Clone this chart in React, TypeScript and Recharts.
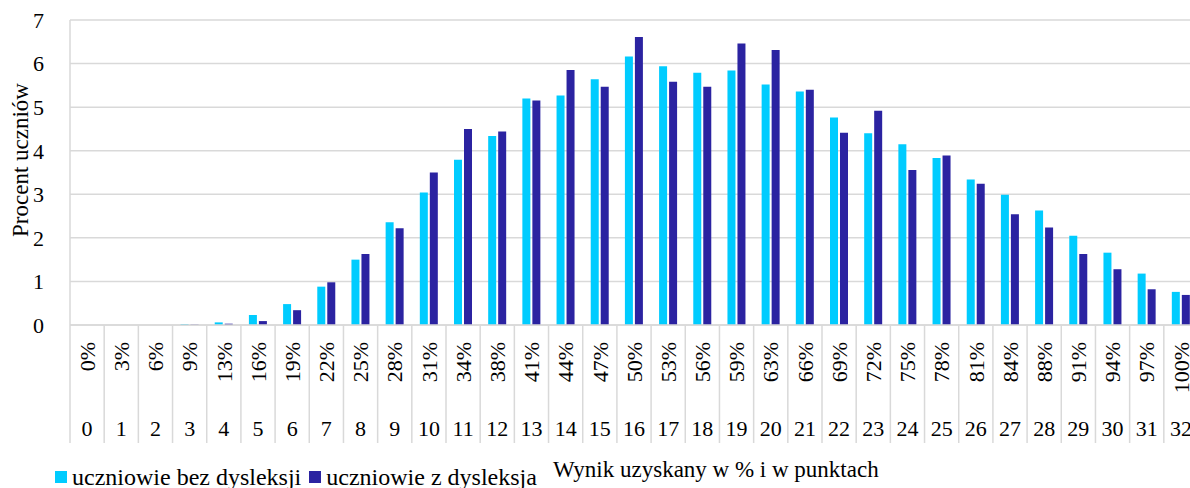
import { BarChart, Bar, XAxis, YAxis, CartesianGrid } from "recharts";

// Wynik w punktach (0–32) i jako procent maksymalnej liczby punktów
const POINTS = [
  "0", "1", "2", "3", "4", "5", "6", "7", "8", "9", "10", "11", "12", "13", "14", "15", "16",
  "17", "18", "19", "20", "21", "22", "23", "24", "25", "26", "27", "28", "29", "30", "31", "32",
];
const PERCENT_LABELS = [
  "0%", "3%", "6%", "9%", "13%", "16%", "19%", "22%", "25%", "28%", "31%", "34%", "38%", "41%",
  "44%", "47%", "50%", "53%", "56%", "59%", "63%", "66%", "69%", "72%", "75%", "78%", "81%",
  "84%", "88%", "91%", "94%", "97%", "100%",
];

// Procent uczniów
const BEZ_DYSLEKSJI = [
  0, 0, 0, 0.02, 0.06, 0.23, 0.48, 0.88, 1.5, 2.36, 3.04, 3.79, 4.34, 5.2, 5.27, 5.64, 6.16,
  5.94, 5.79, 5.84, 5.52, 5.36, 4.76, 4.4, 4.15, 3.83, 3.34, 2.99, 2.63, 2.05, 1.66, 1.18, 0.76,
];
const Z_DYSLEKSJA = [
  0, 0, 0, 0.01, 0.03, 0.09, 0.34, 0.98, 1.63, 2.22, 3.5, 4.5, 4.44, 5.15, 5.85, 5.47, 6.61,
  5.58, 5.47, 6.46, 6.31, 5.4, 4.41, 4.92, 3.56, 3.89, 3.24, 2.54, 2.24, 1.63, 1.28, 0.82, 0.69,
];
const Y_TICKS = [0, 1, 2, 3, 4, 5, 6, 7];

const COLOR_BEZ = "#00CCFF";
const COLOR_Z = "#2B23A1";
const GRID = "#d9d9d9";
const FONT = '"Liberation Serif", "Times New Roman", serif';

const data = POINTS.map((p, i) => ({
  pkt: p,
  bez: BEZ_DYSLEKSJI[i],
  z: Z_DYSLEKSJA[i],
}));

// two-level category label (percent rotated + points) with separators between categories
function CategoryTick(props: any) {
  const { x, y, payload } = props;
  const half = payload.offset || 0;
  const idx = payload.index;
  return (
    <g>
      <line x1={x - half} y1={y} x2={x - half} y2={y + 118} stroke={GRID} strokeWidth={1.5} />
      <text
        x={x}
        y={y + 17}
        transform={`rotate(-90 ${x} ${y + 17})`}
        textAnchor="end"
        dy="0.35em"
        fontSize={22}
        fontFamily={FONT}
        fill="#000"
      >
        {PERCENT_LABELS[idx]}
      </text>
      <text x={x} y={y + 111} textAnchor="middle" fontSize={22} fontFamily={FONT} fill="#000">
        {payload.value}
      </text>
    </g>
  );
}

export default function App() {
  return (
    <div
      style={{
        position: "fixed",
        left: 0,
        top: 0,
        width: 1190,
        height: 488,
        overflow: "hidden",
        background: "#fff",
      }}
    >
      <BarChart
        width={1208}
        height={488}
        data={data}
        margin={{ top: 20, right: 10, bottom: 0, left: 10 }}
        barSize={8}
        barGap={2}
      >
        <CartesianGrid vertical={false} stroke={GRID} strokeWidth={1.5} />
        <XAxis
          dataKey="pkt"
          interval={0}
          height={163}
          tickSize={0}
          tickMargin={0}
          axisLine={{ stroke: GRID, strokeWidth: 1.5 }}
          tick={<CategoryTick />}
          label={{
            content: () => (
              <text x={553} y={477} fontSize={23} fontFamily={FONT} fill="#000">
                Wynik uzyskany w % i w punktach
              </text>
            ),
          }}
        />
        <YAxis
          width={60}
          domain={[0, 7]}
          ticks={Y_TICKS}
          interval={0}
          tickSize={0}
          tickMargin={26}
          axisLine={{ stroke: GRID, strokeWidth: 1.5 }}
          tick={{ fontSize: 22, fontFamily: FONT, fill: "#000" }}
          label={{
            content: () => (
              <text
                x={20}
                y={160}
                transform="rotate(-90 20 160)"
                textAnchor="middle"
                dy="0.35em"
                fontSize={23}
                fontFamily={FONT}
                fill="#000"
              >
                Procent uczniów
              </text>
            ),
          }}
        />
        <Bar dataKey="bez" name="uczniowie bez dysleksji" fill={COLOR_BEZ} isAnimationActive={false} />
        <Bar dataKey="z" name="uczniowie z dysleksja" fill={COLOR_Z} isAnimationActive={false} />
      </BarChart>
      {/* Legend */}
      <div
        style={{
          position: "absolute",
          left: 55,
          top: 465,
          display: "flex",
          alignItems: "center",
          fontFamily: FONT,
          fontSize: 24,
          lineHeight: "24px",
          color: "#000",
          whiteSpace: "nowrap",
        }}
      >
        {[
          { name: "uczniowie bez dysleksji", color: COLOR_BEZ },
          { name: "uczniowie z dysleksja", color: COLOR_Z },
        ].map((item) => (
          <div key={item.name} style={{ display: "flex", alignItems: "center", marginRight: 8 }}>
            <div style={{ width: 12, height: 12, background: item.color, marginRight: 5 }} />
            <span>{item.name}</span>
          </div>
        ))}
      </div>
    </div>
  );
}
